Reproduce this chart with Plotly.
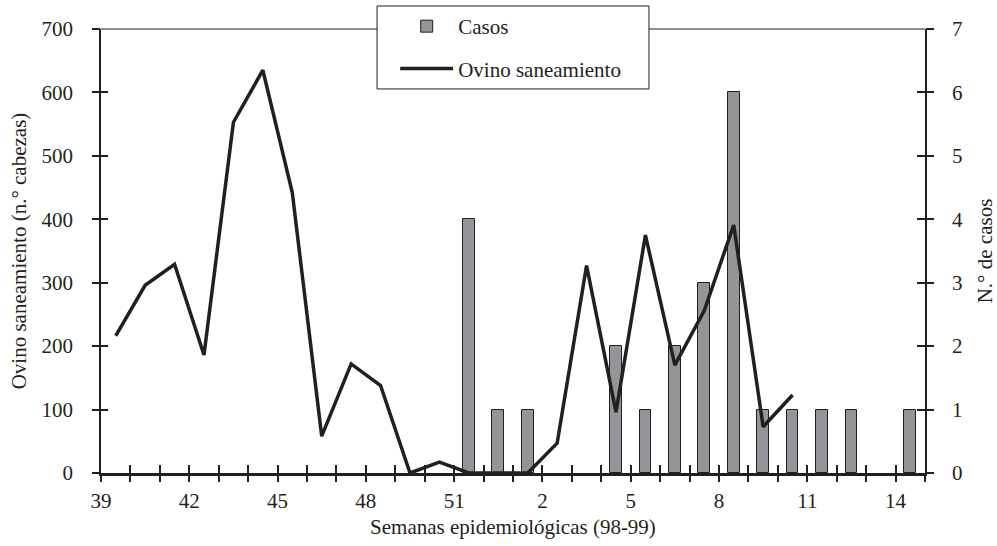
import numpy as np
import plotly.graph_objects as go

# Categories: epidemiological weeks 1998 (39-52) and 1999 (1-14)
weeks = list(range(39, 53)) + list(range(1, 15))

# Ovino saneamiento (n.º cabezas) - left axis
ovino = [216, 296, 329, 186, 553, 635, 442, 58, 172, 138, 0, 17, 0, 0,
         0, 47, 327, 96, 375, 170, 256, 391, 73, 123, None, None, None, None]

# Casos - right axis (None = no bar drawn)
casos = [None, None, None, None, None, None, None, None, None, None, None, None, 4, 1,
         1, None, None, 2, 1, 2, 3, 6, 1, 1, 1, 1, None, 1]

n = len(weeks)
xc = np.arange(n) + 0.5          # category centres
tickpos = list(range(n + 1))     # category boundaries
ticklab = [str(weeks[i]) if (i < n and i % 3 == 0) else "" for i in tickpos]

DARK = "#231f20"
FONT = "Liberation Serif, Times New Roman, serif"
FS = 21

fig = go.Figure()
fig.add_trace(go.Bar(
    x=xc, y=casos, name="Casos", width=0.4,
    marker=dict(color="#939598", line=dict(color=DARK, width=1)),
    xaxis="x", yaxis="y", legendgroup="a",
))
fig.add_trace(go.Scatter(
    x=xc, y=ovino, name="Ovino saneamiento", mode="lines",
    line=dict(color=DARK, width=3.5), connectgaps=False,
    xaxis="x", yaxis="y2", legendgroup="b",
))
# helper traces to realise crossing tick marks (outside halves)
fig.add_trace(go.Scatter(x=[None], y=[None], xaxis="x3", yaxis="y", showlegend=False, hoverinfo="skip"))
fig.add_trace(go.Scatter(x=[None], y=[None], xaxis="x", yaxis="y3", showlegend=False, hoverinfo="skip"))
fig.add_trace(go.Scatter(x=[None], y=[None], xaxis="x", yaxis="y4", showlegend=False, hoverinfo="skip"))

tickstyle = dict(tickcolor=DARK, tickwidth=1.5, showgrid=False, zeroline=False)

fig.update_layout(
    width=997, height=546,
    margin=dict(l=101, r=72, t=29, b=73, autoexpand=False),
    paper_bgcolor="white", plot_bgcolor="white",
    font=dict(family=FONT, size=FS, color=DARK),
    bargap=0,
    xaxis=dict(
        range=[0, n], tickmode="array", tickvals=tickpos, ticktext=ticklab,
        ticks="inside", ticklen=8, showline=True, linewidth=2.5, linecolor=DARK,
        ticklabelstandoff=7,
        title=dict(text="Semanas epidemiológicas (98-99)", standoff=8, font=dict(size=FS)),
        **tickstyle,
    ),
    xaxis3=dict(
        overlaying="x", anchor="y", range=[0, n], tickmode="array", tickvals=tickpos,
        ticks="outside", ticklen=8, showticklabels=False, showline=False, **tickstyle,
    ),
    yaxis=dict(
        side="right", range=[0, 7], tickmode="array", tickvals=list(range(8)),
        ticks="inside", ticklen=8, showline=True, linewidth=1.5, linecolor=DARK,
        ticklabelstandoff=21,
        title=dict(text="N.° de casos", standoff=15, font=dict(size=FS)),
        **tickstyle,
    ),
    yaxis2=dict(
        overlaying="y", side="left", anchor="x", range=[0, 700], tickmode="array",
        tickvals=list(range(0, 701, 100)),
        ticks="inside", ticklen=7, showline=True, linewidth=1.5, linecolor=DARK,
        ticklabelstandoff=22,
        title=dict(text="Ovino saneamiento (n.° cabezas)", standoff=9, font=dict(size=FS)),
        **tickstyle,
    ),
    yaxis3=dict(
        overlaying="y", side="left", anchor="x", range=[0, 700], tickmode="array",
        tickvals=list(range(0, 701, 100)), ticks="outside", ticklen=8,
        showticklabels=False, showline=False, **tickstyle,
    ),
    yaxis4=dict(
        overlaying="y", side="right", anchor="x", range=[0, 7], tickmode="array",
        tickvals=list(range(8)), ticks="outside", ticklen=8,
        showticklabels=False, showline=False, **tickstyle,
    ),
    legend=dict(
        x=0.357, y=1.0518, xanchor="left", yanchor="top",
        bgcolor="rgba(0,0,0,0)", borderwidth=0,
        font=dict(family=FONT, size=21, color=DARK),
        traceorder="grouped", tracegroupgap=12, itemwidth=53,
    ),
    shapes=[
        # top frame line of the plot area
        dict(type="line", xref="paper", yref="paper", x0=0, x1=1, y0=1, y1=1,
             line=dict(color=DARK, width=1), layer="above"),
        # legend box
        dict(type="rect", xref="paper", yref="paper", x0=0.335, x1=0.665, y0=0.865, y1=1.0518,
             line=dict(color=DARK, width=1), fillcolor="white", layer="above"),
    ],
    showlegend=True,
)

fig.write_html("out.html", config={"displayModeBar": False},
               post_script="document.body.style.margin='0px';")
